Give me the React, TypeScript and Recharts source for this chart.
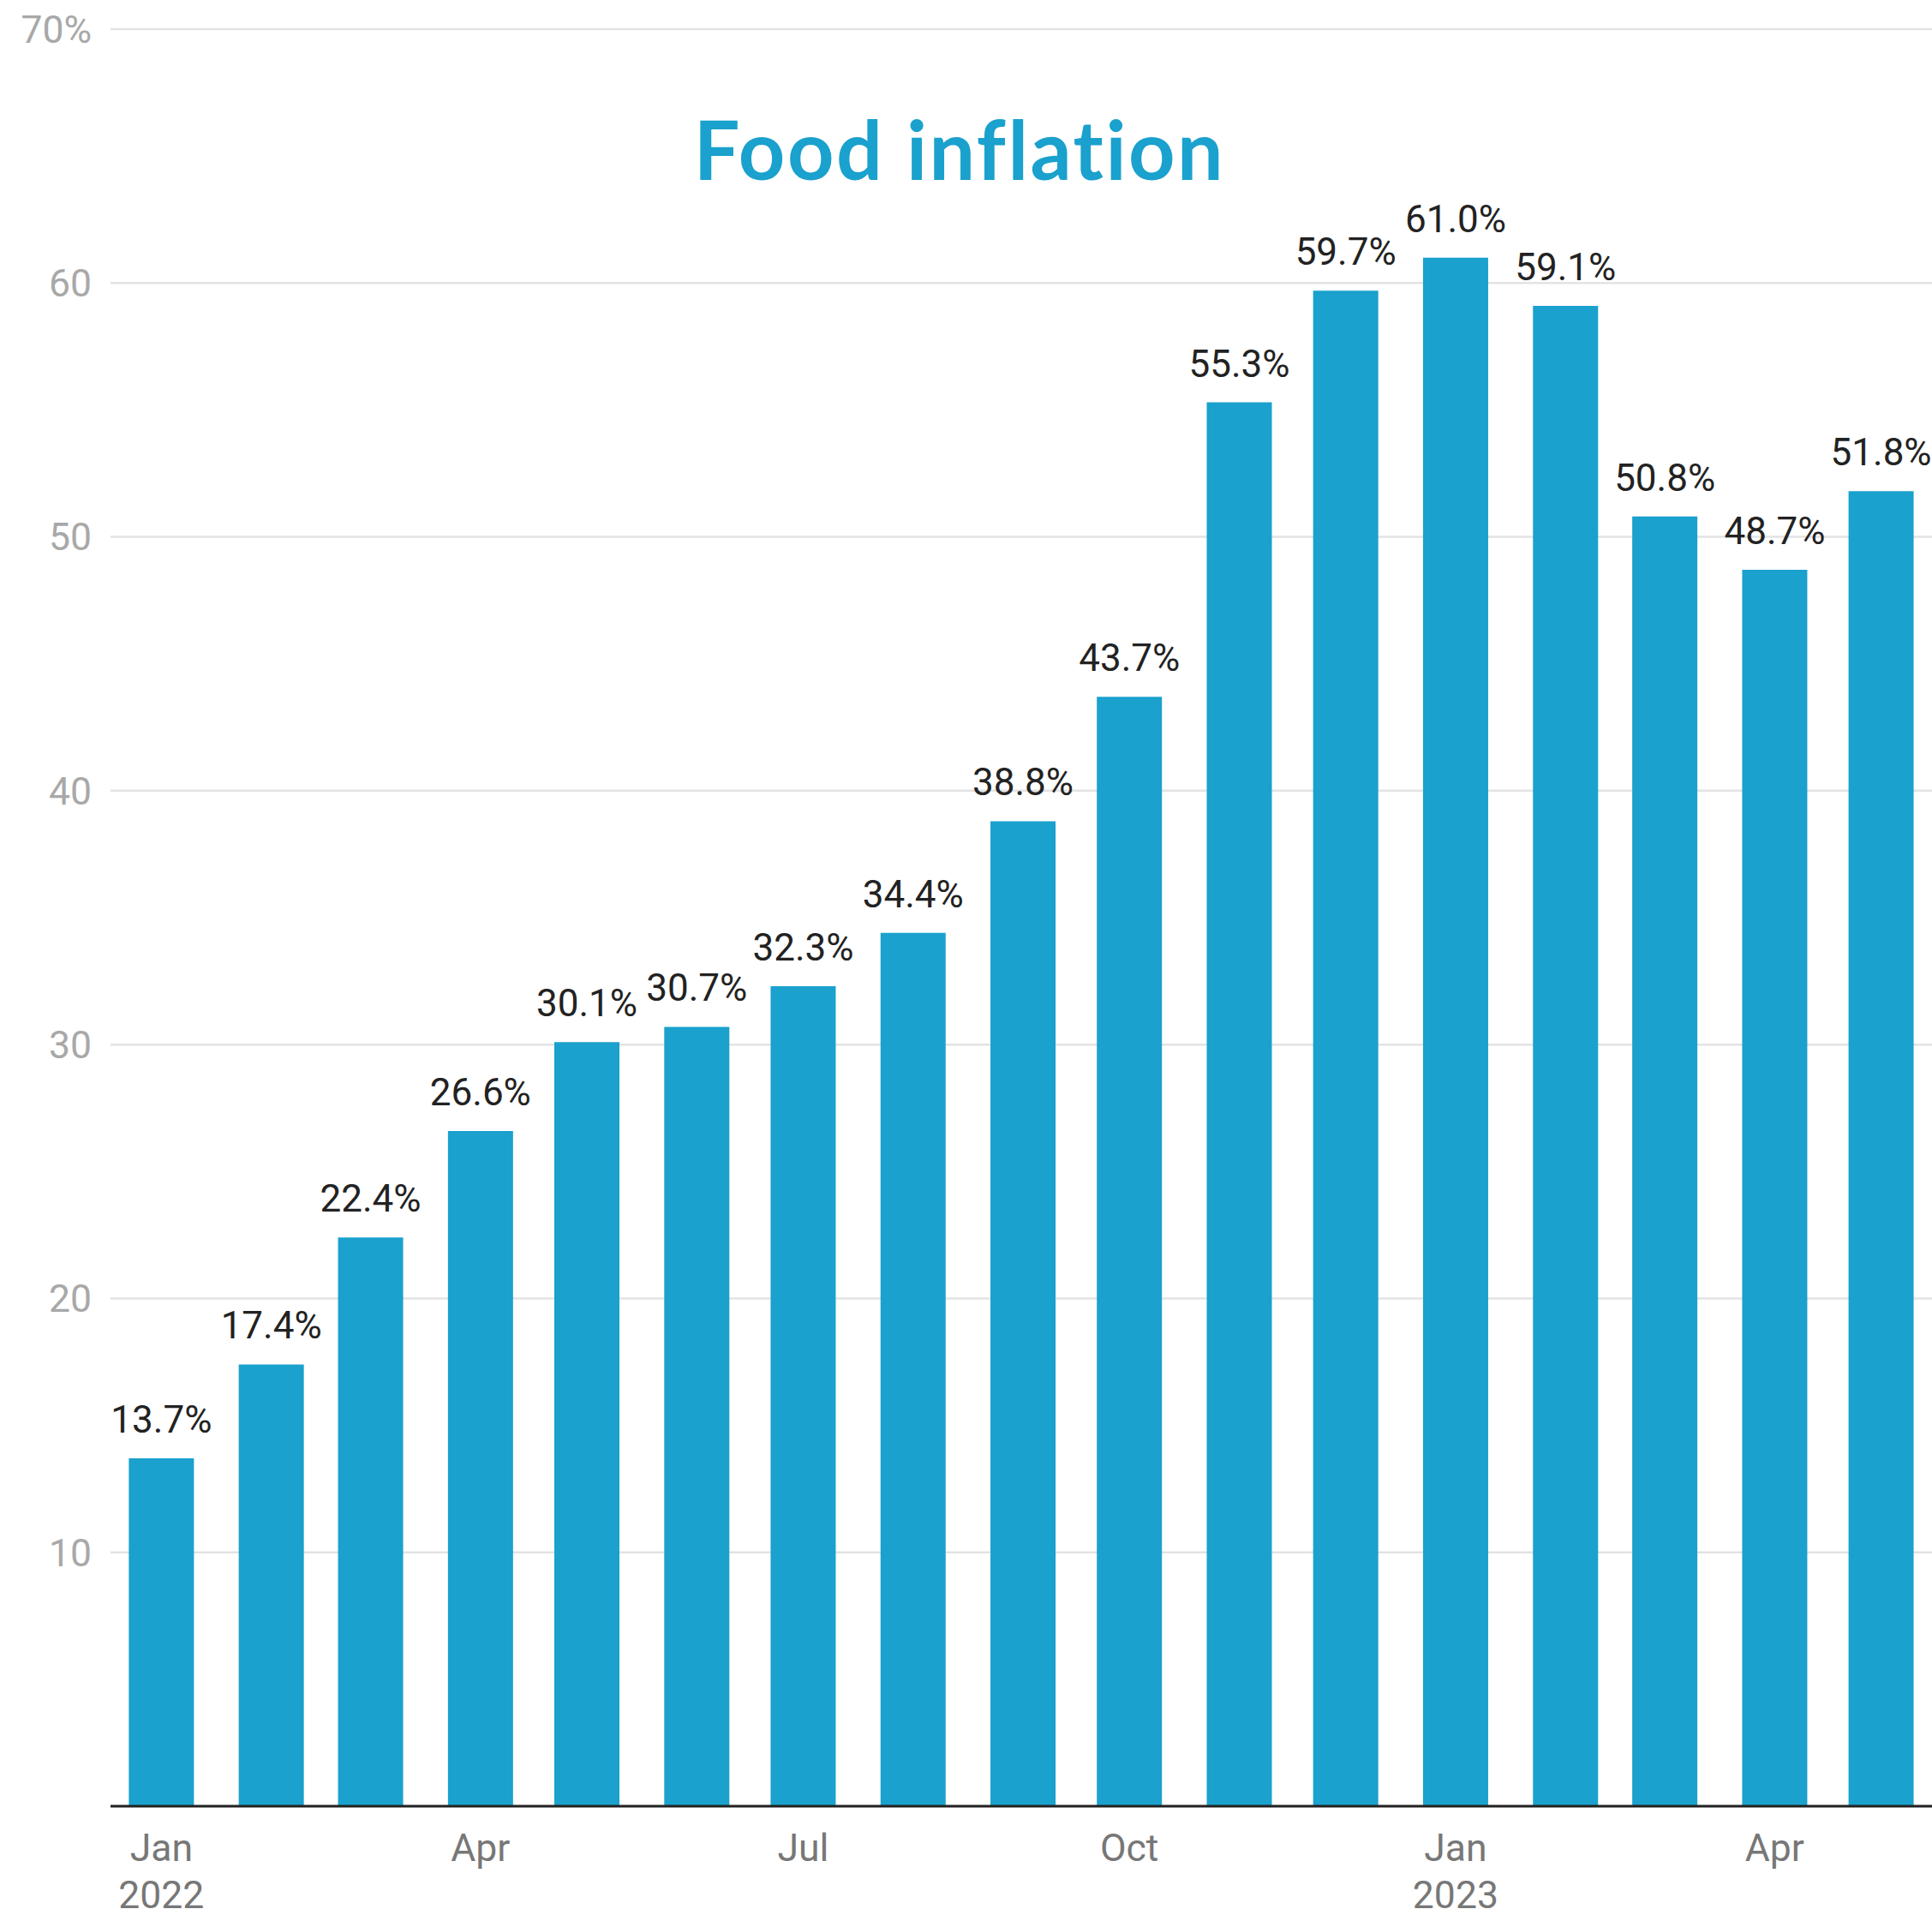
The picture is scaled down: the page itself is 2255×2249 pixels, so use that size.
import React from "react";
import { BarChart, Bar, XAxis, YAxis, CartesianGrid, LabelList } from "recharts";

// Days since 1 Jan 2022 for each monthly observation
const monthDays = [0, 31, 59, 90, 120, 151, 181, 212, 243, 273, 304, 334, 365, 396, 424, 455, 485];
const months = ["Jan 2022", "Feb 2022", "Mar 2022", "Apr 2022", "May 2022", "Jun 2022", "Jul 2022", "Aug 2022", "Sep 2022", "Oct 2022", "Nov 2022", "Dec 2022", "Jan 2023", "Feb 2023", "Mar 2023", "Apr 2023", "May 2023"];
const inflation = [13.7, 17.4, 22.4, 26.6, 30.1, 30.7, 32.3, 34.4, 38.8, 43.7, 55.3, 59.7, 61.0, 59.1, 50.8, 48.7, 51.8];

const xTickDays = [0, 90, 181, 273, 365, 455];
const xTickLabels: Record<number, [string, string]> = {
  0: ["Jan", "2022"],
  90: ["Apr", ""],
  181: ["Jul", ""],
  273: ["Oct", ""],
  365: ["Jan", "2023"],
  455: ["Apr", ""],
};
const yTicks = [10, 20, 30, 40, 50, 60, 70];

const data = monthDays.map((d, i) => ({ day: d, month: months[i], value: inflation[i] }));

const BLUE = "#1AA1CD";
const FONT = "Roboto, 'Noto Sans', sans-serif";

const XTick = (props: any) => {
  const { x, y, payload } = props;
  const lab = xTickLabels[payload.value] || ["", ""];
  return (
    <g>
      <text x={x} y={y + 64} textAnchor="middle" fill="#777" fontSize={44.5} fontFamily={FONT}>
        {lab[0]}
      </text>
      {lab[1] ? (
        <text x={x} y={y + 119} textAnchor="middle" fill="#777" fontSize={44.5} fontFamily={FONT}>
          {lab[1]}
        </text>
      ) : null}
    </g>
  );
};

export default function App() {
  return (
    <div style={{ position: "relative", width: 2255, height: 2249, background: "#fff" }}>
      <style>{`body{margin:0;background:#fff}`}</style>
      <BarChart
        width={2255}
        height={2249}
        data={data}
        margin={{ top: 34, right: 0, bottom: 0, left: 0 }}
      >
        <CartesianGrid vertical={false} stroke="#e3e3e3" strokeWidth={2.5} />
        <XAxis
          dataKey="day"
          type="number"
          domain={[-14.33, 499.37]}
          allowDataOverflow
          ticks={xTickDays}
          interval={0}
          height={141}
          tickSize={0}
          tickMargin={0}
          tickLine={false}
          axisLine={{ stroke: "#222", strokeWidth: 3 }}
          tick={<XTick />}
        />
        <YAxis
          type="number"
          domain={[0, 70]}
          ticks={yTicks}
          interval={0}
          width={129}
          tickSize={0}
          tickMargin={22}
          tickLine={false}
          axisLine={false}
          tickFormatter={(v: number) => (v === 70 ? "70%" : String(v))}
          tick={{ fill: "#a8a8a8", fontSize: 44.5, fontFamily: FONT }}
        />
        <Bar dataKey="value" fill={BLUE} barSize={76} isAnimationActive={false}>
          <LabelList
            dataKey="value"
            position="top"
            offset={30}
            formatter={(v: any) => `${Number(v).toFixed(1)}%`}
            fill="#222"
            fontSize={44}
            fontFamily={FONT}
          />
        </Bar>
      </BarChart>
      <svg width={2255} height={300} style={{ position: "absolute", left: 0, top: 0, pointerEvents: "none" }}>
        <text
          x={1120}
          y={210}
          textAnchor="middle"
          fill={BLUE}
          fontSize={95}
          fontWeight={700}
          letterSpacing={2.5}
          style={{ fontVariantLigatures: "none" }}
          fontFamily="Lato, 'Open Sans', sans-serif"
        >
          Food inflation
        </text>
      </svg>
    </div>
  );
}
